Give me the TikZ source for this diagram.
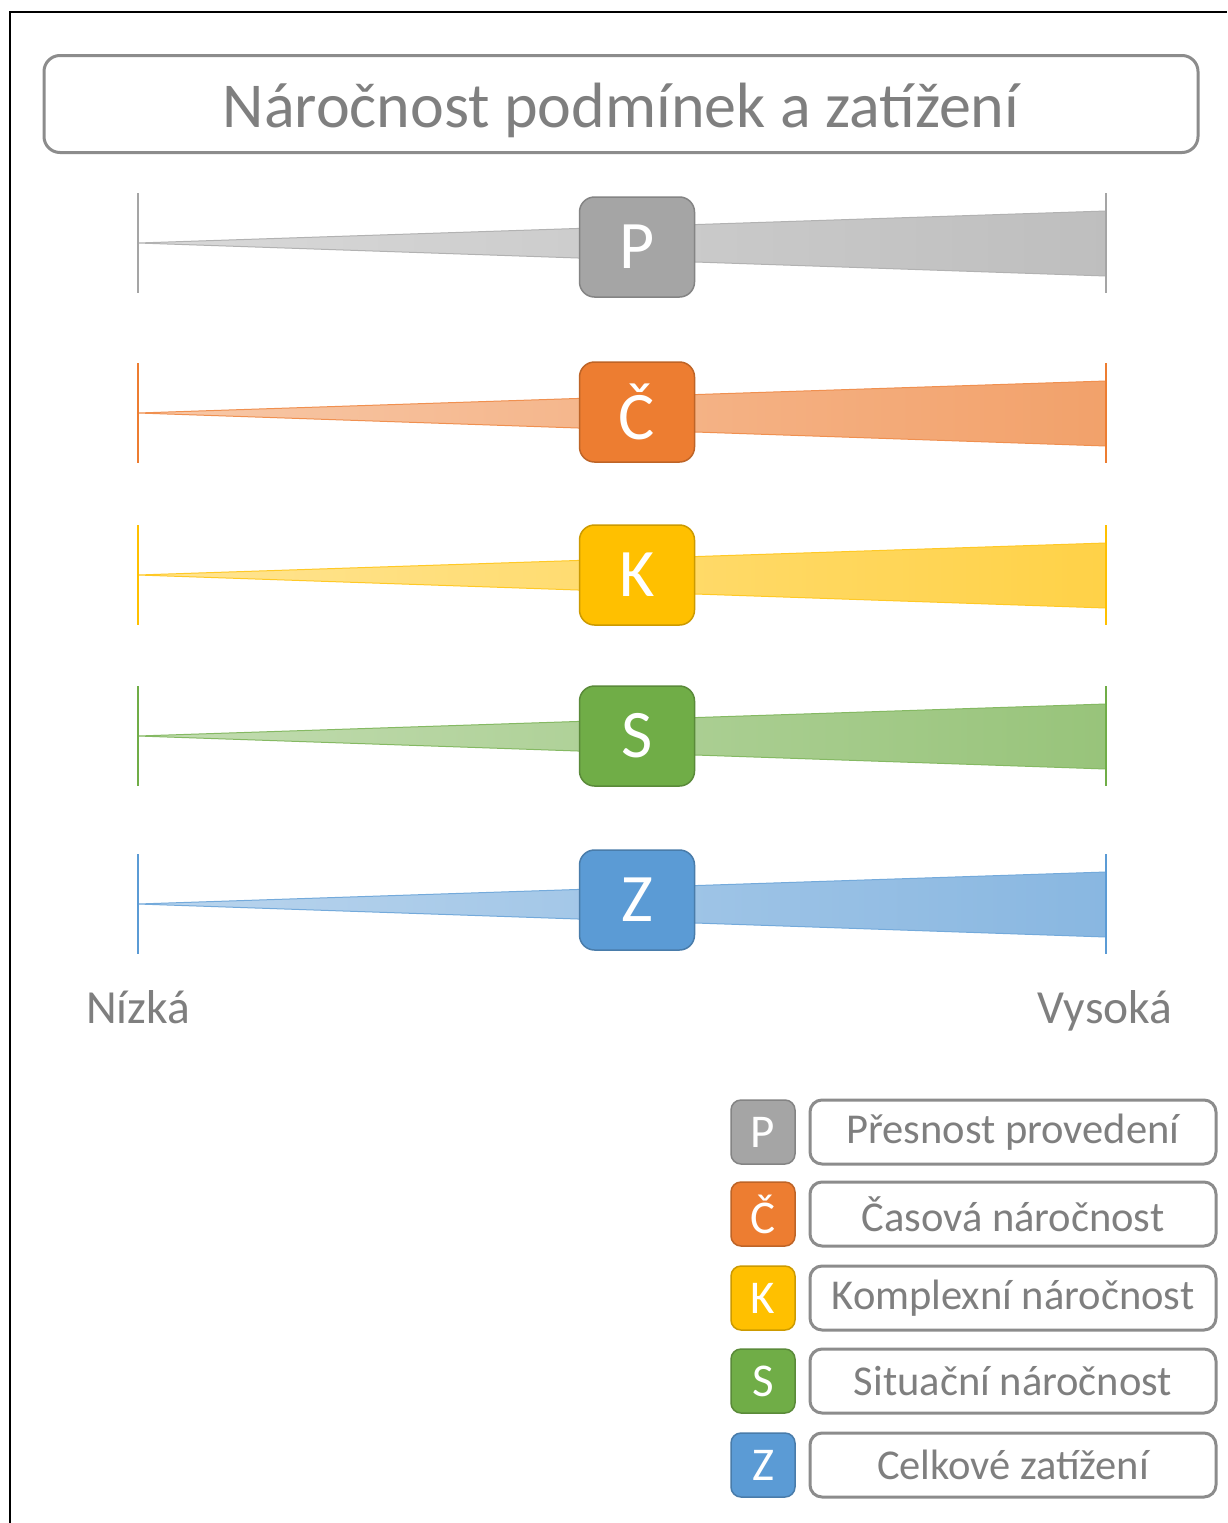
\documentclass[tikz,border=0pt]{standalone}
\usepackage{fontspec}
\setmainfont{Carlito}
\definecolor{cP}{HTML}{A5A5A5}
\definecolor{cC}{HTML}{ED7D31}
\definecolor{cK}{HTML}{FFC000}
\definecolor{cS}{HTML}{70AD47}
\definecolor{cZ}{HTML}{5B9BD5}
\definecolor{txt}{HTML}{7F7F7F}
\definecolor{frameg}{HTML}{8C8C8C}
\tikzset{
  titlebox/.style={draw=frameg, line width=3pt, rounded corners=16pt, minimum width=1154pt, minimum height=97pt, inner sep=0pt, text height=46pt, text depth=0pt, text=txt, font=\fontsize{64}{70}\selectfont},
  letterbox/.style={line width=1.5pt, rounded corners=15pt, minimum width=115pt, minimum height=100pt, inner sep=0pt, text=white, font=\fontsize{68}{70}\selectfont},
  keybox/.style={line width=1.5pt, rounded corners=10pt, minimum width=64pt, minimum height=64pt, inner sep=0pt, text=white, font=\fontsize{47}{50}\selectfont},
  namebox/.style={draw=frameg, line width=3pt, rounded corners=12pt, minimum width=406pt, minimum height=64pt, inner sep=0pt, text=txt, font=\fontsize{42.5}{46}\selectfont},
  scalelabel/.style={text=txt, inner sep=0pt, text height=34pt, text depth=10pt, font=\fontsize{47.5}{52}\selectfont},
}
\begin{document}
\begin{tikzpicture}[x=1pt, y=-1pt]
\useasboundingbox (0,0) rectangle (1227,1523);
\fill[white] (0,0) rectangle (1227,1523);
% outer frame
\draw[black, line width=2.5pt] (10,1523) -- (10,12) -- (1227,12);
% title
\node[titlebox] (title) at (621,104) {Náročnost podmínek a zatížení};
% rows
\foreach \n/\L/\c/\y/\by in {P/P/cP/243/247, C/Č/cC/413/412, K/K/cK/575/575, S/S/cS/736/736, Z/Z/cZ/904/900}{
  \coordinate (L\n) at (138,\y);
  \coordinate (R\n) at (1106,\y);
  \coordinate (RT\n) at (1106,\y-32);
  \coordinate (RB\n) at (1106,\y+33);
  \coordinate (LT\n) at (138,\y-50);
  \coordinate (LB\n) at (138,\y+50);
  \coordinate (RTT\n) at (1106,\y-50);
  \coordinate (RBB\n) at (1106,\y+50);
  \shadedraw[left color=\c!42!white, right color=\c!72!white, draw=\c!85!white, line width=1pt] (L\n) -- (RT\n) -- (RB\n) -- cycle;
  \draw[\c, line width=1.3pt] (LT\n) -- (LB\n);
  \draw[\c, line width=1.3pt] (RTT\n) -- (RBB\n);
  \node[letterbox, fill=\c, draw=\c!80!black] (B\n) at (637,\by) {\L};
}
% scale labels
\node[scalelabel] (low) at (138,1011) {Nízká};
\node[scalelabel] (high) at (1105,1011) {Vysoká};
% legend
\foreach \n/\L/\c/\y/\t in {P/P/cP/1132/Přesnost provedení, C/Č/cC/1214/Časová náročnost, K/K/cK/1298/Komplexní náročnost, S/S/cS/1381/Situační náročnost, Z/Z/cZ/1465/Celkové zatížení}{
  \node[keybox, fill=\c, draw=\c!80!black] (K\n) at (763,\y) {\L};
  \node[namebox] (N\n) at (1013,\y) {\t};
}
\end{tikzpicture}
\end{document}
